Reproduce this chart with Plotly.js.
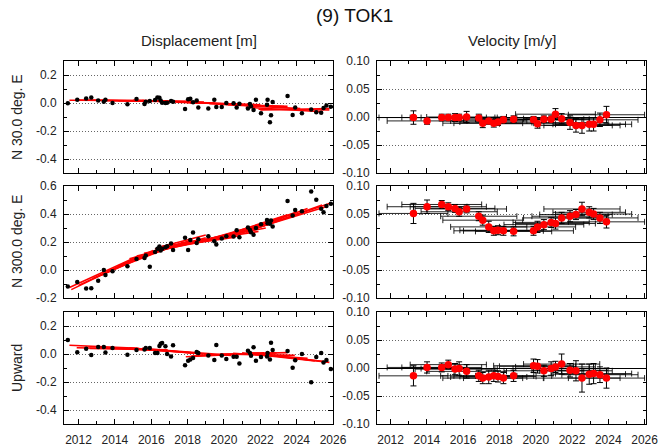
<!DOCTYPE html>
<html>
<head>
<meta charset="utf-8">
<script src="https://cdn.plot.ly/plotly-3.0.1.min.js"></script>
<style>html,body{margin:0;padding:0;background:#fff;}#chart{width:658px;height:447px;}</style>
</head>
<body>
<div id="chart"></div>
<script>
// ---- Displacement epochs (decimal year) ----
const epochs = [2011.41, 2011.93, 2012.42, 2012.70, 2013.08, 2013.39, 2013.48, 2013.87, 2014.69, 2015.19,
  2015.63, 2015.70, 2015.92, 2016.21, 2016.34, 2016.45, 2016.52, 2016.60, 2016.78, 2016.87,
  2017.09, 2017.20, 2017.86, 2018.03, 2018.15, 2018.30, 2018.50, 2018.59, 2019.14, 2019.47,
  2019.58, 2019.88, 2020.13, 2020.53, 2020.70, 2020.85, 2021.32, 2021.43, 2021.49, 2021.63,
  2021.76, 2022.04, 2022.37, 2022.40, 2022.53, 2022.59, 2022.68, 2023.50, 2023.78, 2023.92,
  2024.29, 2024.80, 2025.08, 2025.35, 2025.48, 2025.64, 2025.88];

// ---- Displacement values [m] ----
const dispN30 = [-0.002, 0.024, 0.033, 0.040, 0.017, 0.009, 0.024, 0.000, -0.009, 0.028,
  -0.007, 0.009, 0.014, 0.021, 0.040, 0.038, 0.017, 0.002, 0.000, 0.002,
  0.014, 0.009, -0.043, 0.026, 0.031, 0.005, 0.017, -0.033, -0.040, 0.024,
  -0.028, -0.028, 0.000, -0.002, -0.033, -0.005, -0.040, -0.007, -0.024, -0.050,
  0.024, -0.073, -0.012, 0.024, -0.137, -0.088, 0.007, 0.050, -0.085, -0.033,
  -0.073, -0.047, -0.066, -0.069, -0.036, -0.017, -0.026];
const dispN300 = [-0.118, -0.085, -0.133, -0.130, -0.076, 0.000, -0.036, -0.009, 0.026, 0.078,
  0.085, 0.104, 0.024, 0.128, 0.151, 0.168, 0.140, 0.151, 0.163, 0.170,
  0.189, 0.142, 0.230, 0.142, 0.215, 0.267, 0.192, 0.220, 0.241, 0.206,
  0.182, 0.225, 0.241, 0.239, 0.284, 0.234, 0.303, 0.286, 0.270, 0.251,
  0.300, 0.327, 0.357, 0.334, 0.331, 0.353, 0.310, 0.492, 0.390, 0.428,
  0.419, 0.561, 0.502, 0.438, 0.412, 0.457, 0.473];
const dispUp = [0.100, 0.012, 0.038, -0.007, 0.050, 0.050, 0.010, 0.043, -0.005, 0.029,
  0.033, 0.043, 0.043, 0.007, 0.007, 0.057, 0.074, 0.079, 0.055, 0.000,
  -0.017, 0.062, -0.081, -0.048, -0.040, -0.029, 0.014, 0.007, -0.010, -0.043,
  0.064, -0.010, -0.036, -0.019, -0.019, -0.067, 0.024, 0.007, -0.012, 0.048,
  -0.048, -0.021, -0.017, 0.007, -0.040, 0.081, 0.029, 0.021, -0.098, -0.045,
  0.000, -0.202, -0.021, 0.007, -0.060, -0.043, -0.107];

// ---- Fitted trend segments (start/end year, start/end value) ----
const fitN30_t0 = [2011.5, 2011.9, 2012.6, 2013.3, 2014.2, 2015.0, 2015.5, 2016.4, 2017.4, 2018.0, 2019.2, 2019.6, 2020.2, 2021.2, 2021.9, 2022.0];
const fitN30_t1 = [2015.6, 2016.0, 2016.8, 2017.3, 2018.2, 2018.9, 2019.5, 2020.6, 2021.5, 2022.0, 2023.5, 2023.3, 2024.2, 2025.4, 2025.8, 2025.8];
const fitN30_y0 = [0.020, 0.021, 0.020, 0.018, 0.016, 0.020, 0.018, 0.012, 0.005, 0.004, -0.005, -0.008, -0.012, -0.030, -0.045, -0.050];
const fitN30_y1 = [0.018, 0.016, 0.013, 0.010, 0.012, 0.006, 0.000, -0.008, -0.012, -0.012, -0.024, -0.026, -0.040, -0.062, -0.050, -0.040];

const fitN300_t0 = [2011.5, 2011.6, 2012.0, 2012.8, 2013.2, 2013.6, 2014.2, 2014.8, 2015.2, 2015.6, 2016.2, 2016.6, 2016.5, 2017.8, 2018.2, 2018.6, 2019.0, 2019.5, 2020.0, 2020.4, 2021.2, 2021.6, 2021.8];
const fitN300_t1 = [2015.3, 2015.6, 2016.1, 2016.8, 2017.2, 2017.8, 2018.2, 2019.0, 2019.5, 2019.9, 2020.6, 2020.9, 2019.0, 2021.9, 2022.3, 2022.6, 2023.2, 2023.5, 2024.0, 2024.6, 2025.4, 2025.8, 2025.7];
const fitN300_y0 = [-0.125, -0.140, -0.110, -0.060, -0.040, -0.010, 0.030, 0.080, 0.100, 0.120, 0.150, 0.170, 0.165, 0.195, 0.200, 0.205, 0.215, 0.225, 0.230, 0.240, 0.270, 0.290, 0.300];
const fitN300_y1 = [0.100, 0.110, 0.140, 0.170, 0.185, 0.200, 0.215, 0.230, 0.230, 0.230, 0.235, 0.245, 0.250, 0.275, 0.300, 0.330, 0.370, 0.395, 0.415, 0.440, 0.465, 0.475, 0.455];

const fitUp_t0 = [2011.5, 2011.9, 2012.6, 2013.2, 2014.0, 2014.8, 2015.5, 2016.4, 2017.9, 2018.2, 2018.9, 2019.5, 2019.8, 2020.5, 2021.0, 2021.4, 2021.9];
const fitUp_t1 = [2015.3, 2016.0, 2016.9, 2017.2, 2018.2, 2018.8, 2019.3, 2020.4, 2021.9, 2022.2, 2022.9, 2023.5, 2023.9, 2024.6, 2025.0, 2025.6, 2025.8];
const fitUp_y0 = [0.062, 0.045, 0.040, 0.045, 0.045, 0.045, 0.040, 0.030, -0.020, -0.015, -0.008, -0.005, 0.000, 0.005, 0.008, 0.010, 0.000];
const fitUp_y1 = [0.040, 0.035, 0.030, 0.020, 0.010, 0.000, -0.005, -0.010, 0.005, 0.008, 0.008, 0.010, -0.010, -0.030, -0.050, -0.055, -0.060];

// ---- Velocity estimates ----
const velT = [2013.26, 2014.01, 2014.82, 2015.18, 2015.55, 2015.78, 2016.19, 2016.86, 2017.08, 2017.41,
  2017.69, 2017.92, 2018.22, 2018.78, 2019.88, 2020.10, 2020.45, 2020.85, 2021.09, 2021.43,
  2021.89, 2022.22, 2022.55, 2022.95, 2023.19, 2023.54, 2023.90];
const velWindow = [1.9, 2.2, 2.2, 2.1, 2.2, 2.1, 2.2, 2.1, 2.2, 2.1,
  2.2, 2.1, 2.2, 2.1, 2.2, 2.1, 2.2, 2.1, 2.2, 2.1,
  2.1, 2.0, 2.1, 2.0, 2.1, 2.1, 2.1];
const velN30 = [-0.001, -0.007, -0.001, -0.001, -0.001, -0.001, 0.000, -0.002, -0.011, -0.007,
  -0.011, -0.009, -0.005, -0.004, -0.005, -0.012, -0.004, -0.004, 0.005, -0.003,
  -0.010, -0.015, -0.015, -0.013, -0.013, -0.005, 0.004];
const velN30Err = [0.012, 0.006, 0.006, 0.006, 0.007, 0.006, 0.010, 0.007, 0.008, 0.006,
  0.007, 0.006, 0.006, 0.006, 0.006, 0.008, 0.006, 0.006, 0.010, 0.009,
  0.012, 0.012, 0.014, 0.012, 0.012, 0.012, 0.015];
const velN300 = [0.051, 0.063, 0.067, 0.063, 0.060, 0.054, 0.059, 0.046, 0.039, 0.027,
  0.020, 0.021, 0.020, 0.019, 0.020, 0.027, 0.031, 0.035, 0.033, 0.043,
  0.046, 0.049, 0.059, 0.053, 0.050, 0.043, 0.036];
const velN300Err = [0.018, 0.012, 0.007, 0.007, 0.007, 0.008, 0.007, 0.008, 0.009, 0.010,
  0.008, 0.008, 0.008, 0.008, 0.008, 0.010, 0.009, 0.009, 0.010, 0.010,
  0.010, 0.009, 0.012, 0.010, 0.010, 0.010, 0.011];
const velUp = [-0.014, 0.001, 0.001, 0.006, -0.002, -0.001, -0.006, -0.014, -0.018, -0.016,
  -0.014, -0.015, -0.018, -0.014, 0.004, 0.003, -0.005, -0.001, 0.002, 0.007,
  -0.004, -0.005, -0.018, -0.011, -0.010, -0.012, -0.018];
const velUpErr = [0.018, 0.010, 0.008, 0.008, 0.010, 0.012, 0.012, 0.010, 0.010, 0.012,
  0.010, 0.010, 0.010, 0.010, 0.012, 0.012, 0.010, 0.012, 0.010, 0.018,
  0.012, 0.018, 0.025, 0.018, 0.018, 0.014, 0.018];

// ---- Tick labels ----
const xTickVals = [2012, 2014, 2016, 2018, 2020, 2022, 2024, 2026];
const xTickText = ['2012', '2014', '2016', '2018', '2020', '2022', '2024', '2026'];
const yDispTickVals = [-0.4, -0.2, 0.0, 0.2];
const yDispTickText = ['-0.4', '-0.2', '0.0', '0.2'];
const yMidTickVals = [-0.2, 0.0, 0.2, 0.4, 0.6];
const yMidTickText = ['-0.2', '0.0', '0.2', '0.4', '0.6'];
const yVelTickVals = [-0.10, -0.05, 0.00, 0.05, 0.10];
const yVelTickText = ['-0.10', '-0.05', '0.00', '0.05', '0.10'];

// ---- Titles ----
const mainTitle = '(9) TOK1';
const colTitles = ['Displacement [m]', 'Velocity [m/y]'];
const rowTitles = ['N 30.0 deg. E', 'N 300.0 deg. E', 'Upward'];

// ---------- build ----------
const FONT = 'Liberation Sans, Arial, Helvetica, sans-serif';

function segTrace(t0, t1, y0, y1, xa, ya) {
  const xs = [], ys = [];
  for (let i = 0; i < t0.length; i++) {
    xs.push(t0[i], t1[i], null);
    ys.push(y0[i], y1[i], null);
  }
  return {x: xs, y: ys, xaxis: xa, yaxis: ya, type: 'scatter', mode: 'lines',
    line: {color: '#ff0000', width: 1.6}, hoverinfo: 'skip', showlegend: false, connectgaps: false};
}
function dotTrace(vals, xa, ya) {
  return {x: epochs, y: vals, xaxis: xa, yaxis: ya, type: 'scatter', mode: 'markers',
    marker: {color: 'black', size: 4.5}, showlegend: false};
}
function velTrace(vals, errs, xa, ya) {
  return {x: velT, y: vals, xaxis: xa, yaxis: ya, type: 'scatter', mode: 'markers',
    marker: {color: '#ff0000', size: 7.5},
    error_y: {type: 'data', array: errs, visible: true, color: 'black', thickness: 1, width: 3},
    error_x: {type: 'data', array: velWindow, visible: true, color: 'rgba(0,0,0,0.85)', thickness: 1, width: 3},
    showlegend: false};
}

const data = [
  segTrace(fitN30_t0, fitN30_t1, fitN30_y0, fitN30_y1, 'x', 'y'),
  dotTrace(dispN30, 'x', 'y'),
  segTrace(fitN300_t0, fitN300_t1, fitN300_y0, fitN300_y1, 'x2', 'y2'),
  dotTrace(dispN300, 'x2', 'y2'),
  segTrace(fitUp_t0, fitUp_t1, fitUp_y0, fitUp_y1, 'x3', 'y3'),
  dotTrace(dispUp, 'x3', 'y3'),
  velTrace(velN30, velN30Err, 'x4', 'y4'),
  velTrace(velN300, velN300Err, 'x5', 'y5'),
  velTrace(velUp, velUpErr, 'x6', 'y6')
];

const W = 658, H = 447;
const colX = [[64 / W, 333 / W], [377 / W, 646 / W]];
const colXRange = [[2011.2, 2026.0], [2011.25, 2026.08]];
const rowY = [[1 - 173 / H, 1 - 61 / H], [1 - 298 / H, 1 - 186 / H], [1 - 424 / H, 1 - 312 / H]];

function xAxis(col, row, anchor) {
  return {domain: colX[col], anchor: anchor, range: colXRange[col],
    tickmode: 'array', tickvals: xTickVals, ticktext: xTickText,
    ticks: 'inside', ticklen: 5, tickwidth: 1, tickcolor: 'black',
    minor: {ticks: 'inside', ticklen: 3, tickwidth: 1, tickcolor: 'black', dtick: 1, tick0: 2012, showgrid: false},
    showline: true, linecolor: 'black', linewidth: 1, mirror: 'ticks',
    showgrid: false, zeroline: false, showticklabels: row === 2,
    ticklabelstandoff: 5, ticklabeloverflow: 'allow',
    tickfont: {family: FONT, size: 12, color: '#222'}, fixedrange: true};
}
function yAxis(col, row, anchor, range, tv, tt, minorDtick, zero) {
  return {domain: rowY[row], anchor: anchor, range: range,
    tickmode: 'array', tickvals: tv, ticktext: tt,
    ticks: 'inside', ticklen: 5, tickwidth: 1, tickcolor: 'black',
    minor: {ticks: 'inside', ticklen: 3, tickwidth: 1, tickcolor: 'black', dtick: minorDtick, tick0: 0, showgrid: false},
    showline: true, linecolor: 'black', linewidth: 1, mirror: 'ticks',
    showgrid: true, gridcolor: '#666', gridwidth: 1, griddash: '1px,2px',
    zeroline: zero, zerolinecolor: 'black', zerolinewidth: 1,
    ticklabelstandoff: 4, ticklabeloverflow: 'allow',
    tickfont: {family: FONT, size: 12, color: '#222'}, fixedrange: true};
}

const layout = {
  width: W, height: H, margin: {l: 0, r: 0, t: 0, b: 0},
  paper_bgcolor: 'white', plot_bgcolor: 'white', showlegend: false,
  font: {family: FONT, color: '#222'},
  xaxis: xAxis(0, 0, 'y'), yaxis: yAxis(0, 0, 'x', [-0.5, 0.3], yDispTickVals, yDispTickText, 0.1, false),
  xaxis2: xAxis(0, 1, 'y2'), yaxis2: yAxis(0, 1, 'x2', [-0.2, 0.6], yMidTickVals, yMidTickText, 0.1, false),
  xaxis3: xAxis(0, 2, 'y3'), yaxis3: yAxis(0, 2, 'x3', [-0.5, 0.3], yDispTickVals, yDispTickText, 0.1, false),
  xaxis4: xAxis(1, 0, 'y4'), yaxis4: yAxis(1, 0, 'x4', [-0.1, 0.1], yVelTickVals, yVelTickText, 0.025, true),
  xaxis5: xAxis(1, 1, 'y5'), yaxis5: yAxis(1, 1, 'x5', [-0.1, 0.1], yVelTickVals, yVelTickText, 0.025, true),
  xaxis6: xAxis(1, 2, 'y6'), yaxis6: yAxis(1, 2, 'x6', [-0.1, 0.1], yVelTickVals, yVelTickText, 0.025, true),
  annotations: [
    {text: mainTitle, xref: 'paper', yref: 'paper', x: 354 / W, y: 1 - 16 / H, xanchor: 'center', yanchor: 'middle',
     showarrow: false, font: {family: FONT, size: 19, color: '#111'}},
    {text: colTitles[0], xref: 'paper', yref: 'paper', x: 198.5 / W, y: 1 - 40 / H, xanchor: 'center', yanchor: 'middle',
     showarrow: false, font: {family: FONT, size: 15, color: '#222'}},
    {text: colTitles[1], xref: 'paper', yref: 'paper', x: 511.5 / W, y: 1 - 40 / H, xanchor: 'center', yanchor: 'middle',
     showarrow: false, font: {family: FONT, size: 15, color: '#222'}},
    {text: rowTitles[0], xref: 'paper', yref: 'paper', x: 17 / W, y: (rowY[0][0] + rowY[0][1]) / 2, xanchor: 'center', yanchor: 'middle',
     textangle: -90, showarrow: false, font: {family: FONT, size: 14, color: '#222'}},
    {text: rowTitles[1], xref: 'paper', yref: 'paper', x: 17 / W, y: (rowY[1][0] + rowY[1][1]) / 2, xanchor: 'center', yanchor: 'middle',
     textangle: -90, showarrow: false, font: {family: FONT, size: 14, color: '#222'}},
    {text: rowTitles[2], xref: 'paper', yref: 'paper', x: 17 / W, y: (rowY[2][0] + rowY[2][1]) / 2, xanchor: 'center', yanchor: 'middle',
     textangle: -90, showarrow: false, font: {family: FONT, size: 14, color: '#222'}}
  ]
};

Plotly.newPlot('chart', data, layout, {staticPlot: true, displayModeBar: false});
</script>
</body>
</html>
